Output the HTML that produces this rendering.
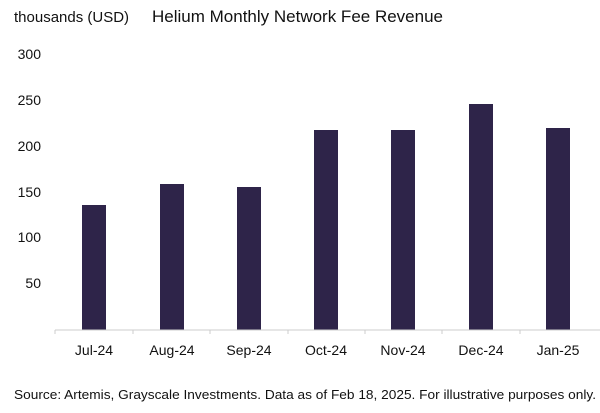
<!DOCTYPE html>
<html><head><meta charset="utf-8"><style>
html,body{margin:0;padding:0;background:#fff;}
svg{display:block;font-family:"Liberation Sans",sans-serif;}
</style></head><body>
<svg width="600" height="413" viewBox="0 0 600 413" xmlns="http://www.w3.org/2000/svg">
<text x="14" y="22" font-size="15" fill="#111">thousands (USD)</text>
<text x="152" y="22" font-size="16.5" fill="#111" textLength="291" lengthAdjust="spacingAndGlyphs">Helium Monthly Network Fee Revenue</text>
<g font-size="14" fill="#111" text-anchor="end">
<text x="41" y="59">300</text>
<text x="41" y="105">250</text>
<text x="41" y="151">200</text>
<text x="41" y="197">150</text>
<text x="41" y="242">100</text>
<text x="41" y="288">50</text>
</g>
<g fill="#2e2449">
<rect x="82" y="205" width="24" height="125"/>
<rect x="160" y="184" width="24" height="146"/>
<rect x="237" y="187" width="24" height="143"/>
<rect x="314" y="130" width="24" height="200"/>
<rect x="391" y="130" width="24" height="200"/>
<rect x="469" y="104" width="24" height="226"/>
<rect x="546" y="128" width="24" height="202"/>
</g>
<line x1="55" y1="330" x2="600" y2="330" stroke="#ccc" stroke-width="1"/>
<g stroke="#ccc"><line x1="133" y1="330" x2="133" y2="334"/><line x1="210" y1="330" x2="210" y2="334"/><line x1="288" y1="330" x2="288" y2="334"/><line x1="365" y1="330" x2="365" y2="334"/><line x1="442" y1="330" x2="442" y2="334"/><line x1="520" y1="330" x2="520" y2="334"/><line x1="55" y1="330" x2="55" y2="334"/></g>
<g font-size="14" fill="#111" text-anchor="middle">
<text x="94" y="355">Jul-24</text>
<text x="172" y="355">Aug-24</text>
<text x="249" y="355">Sep-24</text>
<text x="326" y="355">Oct-24</text>
<text x="403" y="355">Nov-24</text>
<text x="481" y="355">Dec-24</text>
<text x="558" y="355">Jan-25</text>
</g>
<text x="14" y="399" font-size="13" fill="#111" textLength="582" lengthAdjust="spacingAndGlyphs">Source: Artemis, Grayscale Investments. Data as of Feb 18, 2025. For illustrative purposes only.</text>
</svg>
</body></html>
